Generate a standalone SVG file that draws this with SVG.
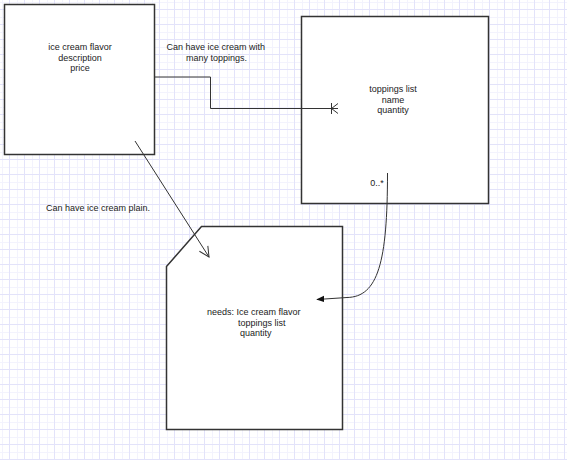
<svg xmlns="http://www.w3.org/2000/svg" width="567" height="460" viewBox="0 0 567 460">
  <style>
    .box { fill: #ffffff; stroke: #333333; stroke-width: 1.5; }
    .edge { fill: none; stroke: #333333; stroke-width: 1; }
    .lbl { font-family: "Liberation Sans", Arial, sans-serif; font-size: 9px; fill: #222222; }
    .mid { text-anchor: middle; }
  </style>
  <defs>
    <pattern id="grid" patternUnits="userSpaceOnUse" x="0" y="0" width="15" height="15">
      <rect width="15" height="15" fill="#ffffff"/>
      <rect x="2" y="0" width="1" height="15" fill="#f3f3fd"/>
      <rect x="0" y="2" width="15" height="1" fill="#f3f3fd"/>
      <rect x="9" y="0" width="1" height="15" fill="#e3e3fa"/>
      <rect x="0" y="9" width="15" height="1" fill="#e3e3fa"/>
    </pattern>
    <marker id="open" viewBox="0 0 12 12" refX="11" refY="6" markerWidth="12" markerHeight="12" markerUnits="userSpaceOnUse" orient="auto">
      <path d="M1,1 L11,6 L1,11" fill="none" stroke="#333333" stroke-width="1"/>
    </marker>
    <marker id="solid" viewBox="0 0 10 10" refX="9" refY="5" markerWidth="8" markerHeight="8" markerUnits="userSpaceOnUse" orient="auto">
      <path d="M0,1 L10,5 L0,9 Z" fill="#111111"/>
    </marker>
  </defs>

  <rect width="567" height="460" fill="url(#grid)"/>

  <g id="flavor">
    <rect class="box" x="4.5" y="4.5" width="150" height="150"/>
    <text class="lbl mid" x="80" y="50">ice cream flavor</text>
    <text class="lbl mid" x="80" y="61">description</text>
    <text class="lbl mid" x="80" y="71">price</text>
  </g>

  <g id="toppings">
    <rect class="box" x="301.5" y="16.5" width="187" height="187"/>
    <text class="lbl mid" x="393" y="92">toppings list</text>
    <text class="lbl mid" x="393" y="103">name</text>
    <text class="lbl mid" x="393" y="113">quantity</text>
  </g>

  <g id="order">
    <path class="box" d="M166.5,266.5 L201.5,226.5 L342.5,226.5 L342.5,429.5 L166.5,429.5 Z"/>
    <text class="lbl" x="207" y="315">needs: Ice cream flavor</text>
    <text class="lbl" x="238" y="326">toppings list</text>
    <text class="lbl" x="240" y="336">quantity</text>
  </g>

  <g id="connectors">
    <!-- flavor to toppings, many end -->
    <path class="edge" d="M155,77 L210.5,77 L210.5,108.5 L338,108.5"/>
    <path class="edge" d="M331.5,103 L331.5,114 M331.5,108.5 L338,103.5 M331.5,108.5 L338,113.5"/>
    <!-- flavor straight to order -->
    <path class="edge" d="M135,141 L209,257" marker-end="url(#open)"/>
    <!-- toppings to order, curved -->
    <path class="edge" d="M387.5,173 C387.5,262 378,297 347,297.5 L317,299.5" marker-end="url(#solid)"/>
    <text class="lbl" x="166.5" y="50">Can have ice cream with</text>
    <text class="lbl" x="186" y="61">many toppings.</text>
    <text class="lbl" x="46" y="211">Can have ice cream plain.</text>
    <text class="lbl mid" x="377" y="186">0..*</text>
  </g>
</svg>
